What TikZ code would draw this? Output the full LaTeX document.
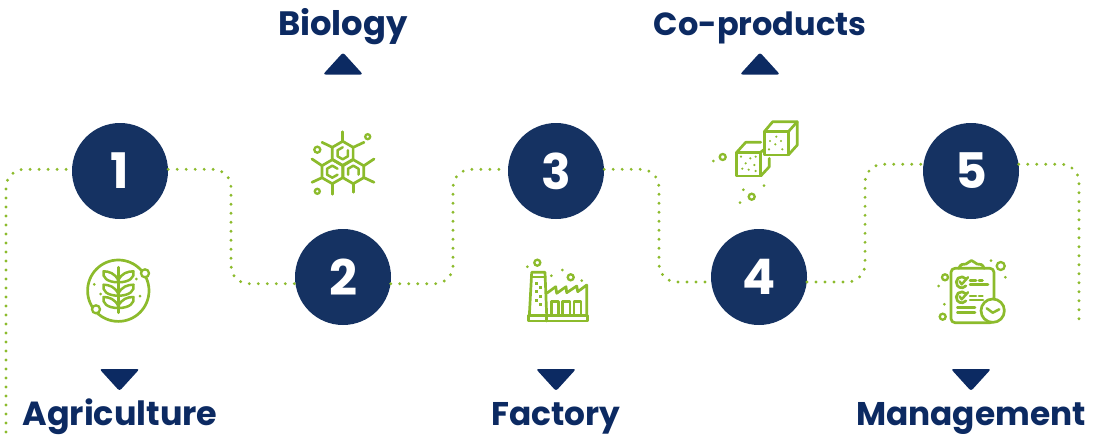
\documentclass[tikz,border=0pt]{standalone}
\usepackage{fontspec}
\setmainfont{Poppins}[BoldFont={Poppins Bold}]
\usetikzlibrary{calc}
\definecolor{leaf}{HTML}{8CBB2C}
\definecolor{navy}{HTML}{153262}
\definecolor{ink}{HTML}{0C2A62}
\tikzset{
  x=1pt,y=-1pt,
  numdisc/.style={circle,fill=navy,minimum size=96pt,inner sep=0pt,text=white,font=\fontsize{49}{49}\selectfont\bfseries},
  caption/.style={text=ink,inner sep=0pt,anchor=base,font=\fontsize{#1}{34}\selectfont\bfseries},
  dotline/.style={draw=leaf,line width=3.2pt,line cap=round,dash pattern=on 0pt off 9pt,rounded corners=18pt},
  ic/.style={draw=leaf,line width=2.7pt,line cap=round,line join=round},
  icthin/.style={draw=leaf,line width=2.5pt,line cap=round,line join=round},
  ring/.style={draw=leaf,line width=2.3pt,fill=white},
  tri/.style={fill=ink,rounded corners=2.5pt},
  spark/.style={fill=leaf}
}
\newcommand{\sparks}[1]{\foreach \a/\b in {#1}{\fill[spark] (\a,\b) circle (1.5pt);}}
\newcommand{\rings}[1]{\foreach \a/\b/\r in {#1}{\draw[ring] (\a,\b) circle (\r pt);}}
\begin{document}
\begin{tikzpicture}
\useasboundingbox (0,0) rectangle (1107,436);
% discs
\node[numdisc] (c1) at (120,171) {1};
\node[numdisc] (c2) at (343,277) {2};
\node[numdisc] (c3) at (556,171) {3};
\node[numdisc] (c4) at (759,277) {4};
\node[numdisc] (c5) at (971,171) {5};
% route
\coordinate (s0) at (6,432);
\coordinate (m1) at (231,230);
\coordinate (m2) at (453,230);
\coordinate (m3) at (659,230);
\coordinate (m4) at (865,230);
\coordinate (e5) at (1079,319);
\draw[dotline] (s0) |- (c1.178);
\draw[dotline] (c1.2) -| (m1) |- (c2.188);
\draw[dotline] (c2.-8) -| (m2) |- (c3.178);
\draw[dotline] (c3.2) -| (m3) |- (c4.186);
\draw[dotline] (c4.-6) -| (m4) |- (c5.172);
\draw[dotline] (c5.8) -| (e5);
% captions
\node[caption=33.4] (t1) at (120,425.5) {Agriculture};
\node[caption=33.8] (t2) at (343,36) {Biology};
\node[caption=32.8] (t3) at (556,425.5) {Factory};
\node[caption=32] (t4) at (760,36) {Co-products};
\node[caption=32.8] (t5) at (971,425.5) {Management};
% arrows
\foreach \c in {119.5,556,971}{\fill[tri] (\c-20,369) -- (\c+20,369) -- (\c,391) -- cycle;}
\foreach \c in {343,760}{\fill[tri] (\c-20,74.5) -- (\c+20,74.5) -- (\c,52.5) -- cycle;}
% agriculture icon
\draw[ic] (118.3,290.7) circle (30.7pt);
\draw[ic] (118.3,267.3) -- (118.3,312.7);
\foreach \y in {279.3,292.7,305}{
  \draw[icthin] (118.3,\y+1) .. controls (115,\y-6) and (109,\y-8) .. (103.5,\y-8) .. controls (102,\y-2) and (107,\y+3) .. (118.3,\y+3);
  \draw[icthin] (118.3,\y+1) .. controls (121.6,\y-6) and (127.6,\y-8) .. (133.5,\y-8) .. controls (135,\y-2) and (129.6,\y+3) .. (118.3,\y+3);
}
\rings{145/273.3/4,96/309.3/4}
\sparks{94.3/284.3,100.7/294,136.3/279,140/296}
% biology icon
\foreach \a/\b in {342.7/153.3,332.3/171.7,353.3/171.7}{
  \draw[ic] (\a,\b-12) -- (\a+10.4,\b-6) -- (\a+10.4,\b+6) -- (\a,\b+12) -- (\a-10.4,\b+6) -- (\a-10.4,\b-6) -- cycle;
}
\foreach \a/\b/\c/\d in {342.7/141.3/342.7/131.7,332.3/147.3/322/142.3,353.3/147.3/364/142.3,322/165.7/312/159,322/177.7/312/182.3,332.3/183.7/332.3/194.3,353.3/183.7/353.3/192.3,364/177.7/374/182.3,364/165.7/374/159}{
  \draw[ic] (\a,\b) -- (\c,\d);
}
\draw[icthin] (347.9,150.3) -- (347.9,156.3) -- (342.7,159.3) -- (337.5,156.3) -- (337.5,150.3) -- (342.7,147.3);
\draw[icthin] (337.5,168.7) -- (332.3,165.7) -- (327.1,168.7) -- (327.1,174.7) -- (332.3,177.7) -- (337.5,174.7);
\draw[icthin] (348.1,174.7) -- (348.1,168.7) -- (353.3,165.7) -- (358.5,168.7) -- (358.5,174.7);
\rings{317.3/149.7/3,367.7/136.7/2.5,317.3/191.3/2.5}
% factory icon
\draw[ic] (529.3,316) -- (531.7,272.3) -- (545,272.3) -- (546.7,316);
\draw[icthin] (531.2,277) -- (545.2,277);
\draw[ic] (528.3,315.7) rectangle (587.3,321);
\draw[icthin] (546.7,315.7) -- (546.7,321);
\draw[ic] (546.7,293.3) -- (555.7,286.7) -- (556.7,293.3) -- (566,286.7) -- (566.7,292.7) -- (576.7,286) -- (577.7,291.7) -- (586.7,285) -- (586.7,315.7);
\foreach \l/\r in {551.7/558.3,562.3/570,574/581}{\draw[icthin] (\l,315.7) -- (\l,301.7) -- (\r,301.7) -- (\r,315.7);}
\foreach \a/\b in {536.7/283.3,536.7/291.7,540.7/287.3,540.7/296.7,536.7/300.7,540.7/304.3}{\fill[leaf] (\a-1.6,\b-1.6) rectangle (\a+1.6,\b+1.6);}
\rings{537.3/262.7/3,570.7/277.3/3}
\sparks{527.3/266.7,551.3/275.7,562.3/270,581.7/280.7}
% cubes icon
\draw[ic] (764.3,131.7) rectangle (788.3,155);
\draw[ic] (764.3,131.7) -- (772.7,121.7) -- (797.3,121.7) -- (797.3,145) -- (788.3,155);
\draw[ic] (788.3,131.7) -- (797.3,121.7);
\draw[ic] (736.7,152.3) rectangle (760.7,176);
\draw[ic] (736.7,152.3) -- (745.7,142.3) -- (760.7,142.3);
\draw[ic] (760.7,152.3) -- (763.3,150);
\draw[ic] (760.7,176) -- (769.3,166.7) -- (769.3,158.3);
\foreach \a/\b in {229/80,210/93,243/93,226/103,207/118,247/118,123/140,151/145,167/140,137/160,163/165,127/176,146/179,167/183}{
  \fill[spark] (700+\a/3,110+\b/3) circle (1.2pt);
}
\rings{722.7/157/3,751.7/196.7/3}
\sparks{713.3/161,743.3/189.7,764/185.7,740/202.7}
% management icon
\draw[ic,rounded corners=4pt] (959,268.3) -- (951,268.3) -- (951,322.7) -- (994,322.7) -- (994,268.3) -- (984,268.3);
\draw[ic] (959,268.3) .. controls (960,264) and (963,264) .. (966,264) .. controls (968,264) and (969,260.5) .. (971.5,260.5) .. controls (974,260.5) and (975,264) .. (977,264) .. controls (980,264) and (983,264) .. (984,268.3) -- cycle;
\foreach \y in {282.3,297.3}{
  \draw[ic] (961.7,\y) ++(40:5.5pt) arc[start angle=40,end angle=320,radius=5.5pt];
  \draw[icthin] (959.5,\y-1) -- (961.7,\y+2) -- (968,\y-5);
}
\draw[icthin] (970,280.7) -- (976,280.7) (979,280.7) -- (982.5,280.7);
\draw[icthin] (970,284.3) -- (988,284.3);
\draw[icthin] (970,296) -- (976,296) (979,296) -- (982.5,296);
\draw[icthin] (970,300) -- (983,300);
\draw[icthin] (957.3,307.7) -- (975,307.7);
\draw[icthin] (957.3,312.3) -- (975,312.3);
\draw[ic,fill=white] (992.7,310.7) circle (11.7pt);
\draw[icthin] (986.7,308.3) -- (992.7,312.7) -- (999.3,309.3);
\rings{1000.7/266/4,945/277.3/3,942.7/316.7/3}
\sparks{991/260.7,1005.3/277.3,938.7/286,944.3/304.3}
\end{tikzpicture}
\end{document}
